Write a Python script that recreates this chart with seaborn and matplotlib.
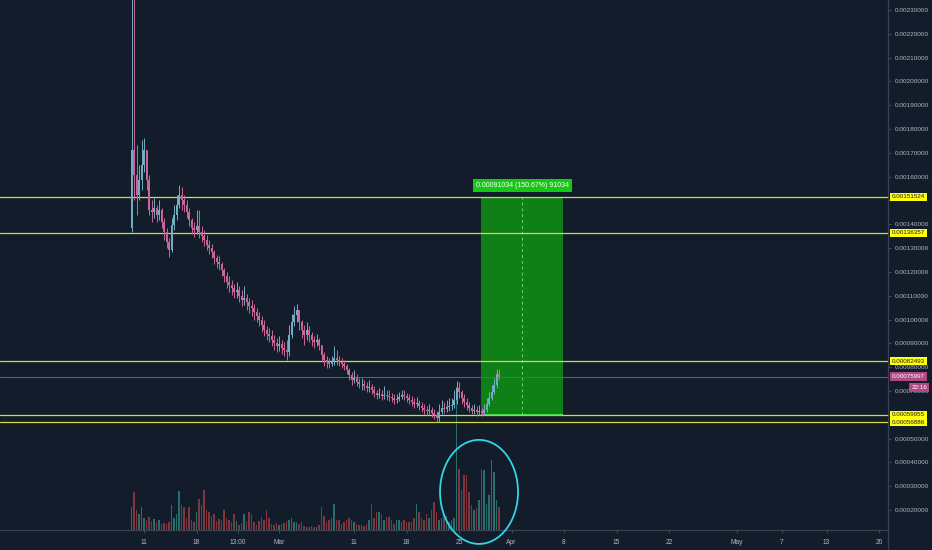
import numpy as np
import pandas as pd
import matplotlib
matplotlib.use("Agg")
import matplotlib.pyplot as plt
import matplotlib.dates as mdates
from matplotlib.patches import Rectangle, Ellipse
from matplotlib.lines import Line2D
from matplotlib.transforms import blended_transform_factory
import seaborn as sns

# ---------------- data (prices in units of 1e-6, 8h candles) ----------------
candle_start = "2018-02-09 08:00"
candle_freq = "8h"
first_open = 1384
closes = [1712,1607,1523,1586,1649,1712,1586,1460,1452,1468,
          1439,1460,1410,1368,1326,1292,1397,1439,1481,1523,
          1502,1481,1452,1418,1384,1376,1393,1368,1351,1334,
          1313,1300,1284,1258,1242,1233,1208,1183,1158,1145,
          1132,1116,1124,1099,1082,1090,1074,1057,1048,1032,
          1015,998,977,956,939,931,914,901,889,897,
          880,872,864,935,990,1019,1040,990,956,935,
          956,935,914,906,914,893,851,830,822,813,
          822,838,830,822,813,805,788,767,746,754,
          738,729,729,721,712,717,704,691,683,687,
          679,683,679,675,670,662,666,675,683,679,
          670,662,654,645,649,637,628,620,616,620,
          607,599,586,612,628,624,633,637,641,662,
          712,696,670,654,641,628,616,620,612,616,
          607,620,645,670,696,725,771,760]
highs = [2420,2420,1733,1649,1754,1762,1670,1607,1502,1510,
         1481,1502,1468,1426,1384,1342,1426,1481,1523,1565,
         1557,1523,1502,1468,1426,1410,1460,1460,1393,1376,
         1355,1334,1317,1292,1271,1267,1242,1216,1200,1183,
         1166,1149,1158,1141,1124,1141,1107,1090,1082,1065,
         1048,1032,1015,998,973,964,956,935,922,931,
         914,906,914,977,1023,1057,1065,1032,998,977,
         990,973,948,931,939,922,893,864,847,838,
         847,889,872,847,838,830,813,796,780,788,
         771,754,754,746,738,746,729,721,704,712,
         704,721,704,704,691,687,687,696,704,704,
         691,687,679,670,675,662,654,645,637,645,
         633,624,616,645,662,654,662,670,670,704,
         742,738,704,687,670,654,641,645,637,641,
         628,645,670,696,725,754,792,792]
lows = [1368,1502,1439,1502,1544,1620,1544,1439,1410,1426,
        1410,1418,1384,1334,1300,1263,1284,1376,1418,1468,
        1460,1452,1426,1393,1359,1347,1359,1342,1326,1309,
        1292,1275,1258,1233,1216,1208,1183,1158,1132,1116,
        1103,1090,1090,1074,1057,1061,1040,1027,1015,998,
        990,973,948,931,914,906,889,872,864,868,
        855,847,830,847,922,973,990,956,922,893,
        914,906,889,880,889,872,822,805,796,796,
        805,809,809,805,796,788,771,746,725,733,
        721,712,704,704,696,696,687,675,666,670,
        662,666,662,658,654,645,649,658,666,662,
        654,645,637,628,633,620,612,603,599,603,
        591,582,569,570,603,607,612,616,620,628,
        645,670,645,633,620,612,603,603,595,599,
        595,599,612,637,662,687,712,746]
volumes = [230,380,200,160,230,120,100,130,90,110,
           80,100,60,70,60,80,250,120,160,390,
           250,230,120,230,100,80,180,310,250,400,
           200,180,140,160,90,110,100,200,120,100,
           80,160,90,50,70,160,90,180,160,80,
           50,90,130,100,200,120,60,50,70,50,
           60,70,90,100,120,80,80,60,80,40,
           30,30,40,30,30,50,230,140,80,100,
           120,260,100,100,60,80,100,120,100,80,
           60,50,50,40,60,100,260,120,180,180,
           160,100,130,130,100,60,100,100,80,100,
           80,80,80,120,260,180,120,100,160,120,
           200,280,180,100,120,160,140,80,100,120,
           1430,610,400,550,550,380,250,200,220,300,
           610,600,260,350,700,580,300,230]

levels = [0.00151524, 0.00136357, 0.00082493, 0.00059955, 0.00056886]
level_labels = ["0.00151524", "0.00136357", "0.00082493", "0.00059955", "0.00056886"]
last_price = 0.00075997
last_label = "0.00075997"
countdown = "22:16"

trade_start = "2018-03-27 22:00"
trade_mid = "2018-04-02 10:00"
trade_end = "2018-04-07 21:00"
trade_top = 0.00151524
trade_bottom = 0.00059955
trade_label = "0.00091034 (150.67%) 91034"

yticks = [0.0002, 0.0003, 0.0004, 0.0005, 0.0006, 0.0007, 0.0008, 0.0009, 0.0010, 0.0011,
          0.0012, 0.0013, 0.0014, 0.0015, 0.0016, 0.0017, 0.0018, 0.0019, 0.0020, 0.0021,
          0.0022, 0.0023]
hidden_ticks = [0.0006, 0.0015]   # fully covered by level labels in the reference
xtick_dates = ["2018-02-11", "2018-02-18", "2018-02-23 13:00", "2018-03-01", "2018-03-11",
               "2018-03-18", "2018-03-25", "2018-04-01", "2018-04-08", "2018-04-15",
               "2018-04-22", "2018-05-01", "2018-05-07", "2018-05-13", "2018-05-20"]
xtick_labels = ["11", "18", "13:00", "Mar", "11", "18", "25", "Apr", "8", "15",
                "22", "May", "7", "13", "20"]

# ---------------- styling ----------------
BG = "#131c2b"
UP = "#74aec4"
DOWN = "#cc6699"
VUP = "#2a7874"
VDOWN = "#8a3b40"
LEVEL = "#d4de3a"
TXT = "#b2b6c0"
AXLINE = "#3a4252"

sns.set_theme(style="dark", rc={"axes.facecolor": BG, "figure.facecolor": BG})
plt.rcParams["font.family"] = ["Liberation Sans", "DejaVu Sans"]

scale = 1e-6
c = np.array(closes) * scale
o = np.array([first_open] + closes[:-1]) * scale
h = np.maximum.reduce([np.array(highs) * scale, o, c])
l = np.minimum.reduce([np.array(lows) * scale, o, c])
t = mdates.date2num(pd.date_range(candle_start, periods=len(closes), freq=candle_freq))
up = c >= o
cols = np.where(up, UP, DOWN)
vcols = np.where(up, VUP, VDOWN)

fig = plt.figure(figsize=(9.32, 5.5), dpi=100)
fig.patch.set_facecolor(BG)
rect = [0, 20 / 550, 888 / 932, 530 / 550]
axv = fig.add_axes(rect)
ax = fig.add_axes(rect, sharex=axv)
ax.patch.set_visible(False)
axv.set_facecolor(BG)

m1 = mdates.date2num(pd.Timestamp("2018-03-01"))
ax.set_xlim(m1 - 37.2, m1 + 81.2)
ax.set_ylim(0.000116, 0.002342)
axv.set_ylim(0, 5300)

# volume
axv.bar(t, volumes, width=0.25, color=vcols, alpha=0.9, linewidth=0)
axv.set_yticks([])
axv.tick_params(axis="x", bottom=False, labelbottom=False)
for s in axv.spines.values():
    s.set_visible(False)

# trade box
ts, tm, te = (mdates.date2num(pd.Timestamp(d)) for d in (trade_start, trade_mid, trade_end))
ax.add_patch(Rectangle((ts, trade_bottom), te - ts, trade_top - trade_bottom,
                       facecolor="#0f7f17", edgecolor="none", zorder=1))
ax.vlines(tm, trade_bottom, trade_top, colors="#66d866", linestyles=(0, (3, 3)), lw=0.7, zorder=1.5)

# level lines
for lv in levels:
    ax.axhline(lv, color=LEVEL, lw=0.9, zorder=2)
ax.hlines(trade_bottom, ts, te, colors="#55f055", lw=1.1, zorder=2.2)
ax.axhline(last_price, color="#8c4f72", lw=0.7, zorder=2)

# candles
ax.vlines(t, l, h, colors=cols, lw=0.7, zorder=3)
body_low = np.minimum(o, c)
body_h = np.maximum(np.abs(c - o), 1.5e-6)
ax.bar(t, body_h, bottom=body_low, width=0.2, color=cols, linewidth=0, zorder=3.5)

# hand-drawn circle
ax.add_patch(Ellipse((m1 + 26.67, 0.000276), 10.4, 0.000437, fill=False,
                     edgecolor="#2fd6e4", lw=1.3, zorder=6, clip_on=False))

# axes / ticks
ax.yaxis.tick_right()
ax.set_yticks(yticks)
ax.set_yticklabels(["" if any(abs(v - hv) < 1e-9 for hv in hidden_ticks) else f"{v:.8f}"
                    for v in yticks])
ax.set_xticks([mdates.date2num(pd.Timestamp(d)) for d in xtick_dates])
ax.set_xticklabels(xtick_labels)
ax.tick_params(axis="y", labelsize=4.6, color="#4c5364", labelcolor=TXT,
               length=2, width=0.6, pad=3, right=True, left=False)
ax.tick_params(axis="x", labelsize=4.8, color="#4c5364", labelcolor=TXT,
               length=2, width=0.6, pad=4.5, bottom=True)
ax.grid(False)
axv.grid(False)
for name, s in ax.spines.items():
    if name in ("right", "bottom"):
        s.set_visible(True)
        s.set_color(AXLINE)
        s.set_linewidth(0.9)
    else:
        s.set_visible(False)
fig.add_artist(Line2D([888 / 932, 888 / 932], [0, 20 / 550], transform=fig.transFigure,
                      color=AXLINE, lw=0.9))

# right-side labels
btr = blended_transform_factory(fig.transFigure, ax.transData)
for lv, lab in zip(levels, level_labels):
    ax.text(892 / 932, lv, lab, transform=btr, ha="left", va="center", fontsize=4.5,
            color="#1a1a1a", zorder=20, clip_on=False,
            bbox=dict(boxstyle="square,pad=0.28", fc="#ffff10", ec="none"))
ax.text(892 / 932, last_price, last_label, transform=btr, ha="left", va="center", fontsize=4.5,
        color="white", zorder=20, clip_on=False,
        bbox=dict(boxstyle="square,pad=0.3", fc="#b04a82", ec="none"))
ax.annotate(countdown, xy=(927 / 932, last_price), xycoords=btr, xytext=(0, -8),
            textcoords="offset points", ha="right", va="center", fontsize=4.5,
            color="white", zorder=20, annotation_clip=False,
            bbox=dict(boxstyle="square,pad=0.35", fc="#b04a82", ec="none"))

# trade label
ax.annotate(trade_label, xy=(tm, trade_top), xytext=(0, 8), textcoords="offset points",
            ha="center", va="center", fontsize=5, color="white", zorder=20,
            bbox=dict(boxstyle="square,pad=0.45", fc="#14c814", ec="none"))

fig.savefig("out.png", dpi=100, facecolor=BG)
